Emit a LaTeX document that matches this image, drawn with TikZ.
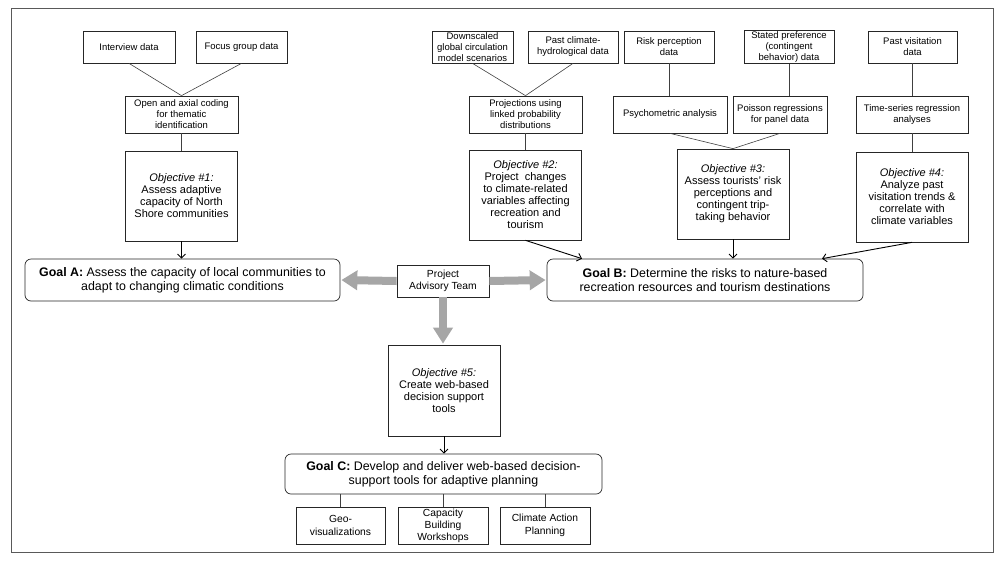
\documentclass[tikz,border=0pt]{standalone}
\usepackage{fontspec}
\setmainfont{Liberation Sans}
\usetikzlibrary{arrows.meta}
\begin{document}
\begin{tikzpicture}[x=1pt,y=-1pt,
 box/.style={draw=black!85, line width=0.7pt, rectangle, align=center, inner sep=1pt},
 small/.style={box, font=\fontsize{9.5}{11}\selectfont},
 mid/.style={box, font=\fontsize{10.3}{12.5}\selectfont},
 obj/.style={box, font=\fontsize{11}{12}\selectfont, minimum width=112pt, minimum height=90pt},
 goal/.style={box, rounded corners=6pt, font=\fontsize{12.4}{14}\selectfont, minimum height=42pt},
 link/.style={draw=black!75, line width=0.6pt},
 arr/.style={draw=black, line width=0.9pt, -{Straight Barb[length=4pt,width=8pt]}},
 bigarr/.style={draw=black!35, line width=8pt, -{Triangle[length=16pt,width=19pt]}, shorten >=1pt}
]
\useasboundingbox (0,0) rectangle (1000,563);
\draw[draw=black!65, line width=1pt] (11,8) rectangle (993,552);

% top data boxes
\node[small, minimum width=92pt, minimum height=32pt] (int) at (129,47) {Interview data};
\node[small, minimum width=91pt, minimum height=32pt] (focus) at (241.5,47) {Focus group data};
\node[small, minimum width=81pt, minimum height=32pt] (down) at (472.5,47) {Downscaled\\global circulation\\model scenarios};
\node[small, minimum width=90pt, minimum height=32pt] (pastclim) at (573,47) {Past climate-\\hydrological data};
\node[small, minimum width=90pt, minimum height=32pt] (risk) at (669,47) {Risk perception\\data};
\node[small, minimum width=90pt, minimum height=32pt] (stated) at (789,47) {Stated preference\\(contingent\\behavior) data};
\node[small, minimum width=89pt, minimum height=32pt] (pastvis) at (912.5,47) {Past visitation\\data};

% method boxes
\node[small, minimum width=113pt, minimum height=37pt] (coding) at (181.5,114.5) {Open and axial coding\\for thematic\\identification};
\node[small, minimum width=113pt, minimum height=37pt] (proj) at (525.5,114.5) {Projections using\\linked probability\\distributions};
\node[small, minimum width=114pt, minimum height=37pt] (psych) at (670,114.5) {Psychometric analysis};
\node[small, minimum width=94pt, minimum height=37pt] (poisson) at (780,114.5) {Poisson regressions\\for panel data};
\node[small, minimum width=112pt, minimum height=37pt] (ts) at (912,114.5) {Time-series regression\\analyses};

% objectives
\node[obj] (obj1) at (181.5,196) {\textit{Objective \#1:}\\Assess adaptive\\capacity of North\\Shore communities};
\node[obj] (obj2) at (525.5,195) {\textit{Objective \#2:}\\Project\ \ changes\\to climate-related\\variables affecting\\recreation and\\tourism};
\node[obj] (obj3) at (733,194) {\textit{Objective \#3:}\\Assess tourists' risk\\perceptions and\\contingent trip-\\taking behavior};
\node[obj] (obj4) at (912,197) {\textit{Objective \#4:}\\Analyze past\\visitation trends \&\\correlate with\\climate variables};

% goals and team
\node[goal, minimum width=315pt] (goalA) at (182.5,280) {\textbf{Goal A:} Assess the capacity of local communities to\\adapt to changing climatic conditions};
\node[goal, minimum width=316pt] (goalB) at (705,280) {\textbf{Goal B:} Determine the risks to nature-based\\recreation resources and tourism destinations};
\node[mid, minimum width=92pt, minimum height=32pt] (pat) at (443,281) {Project\\Advisory Team};

\node[obj, minimum height=91pt] (obj5) at (444,390.5) {\textit{Objective \#5:}\\Create web-based\\decision support\\tools};
\node[goal, minimum width=317pt, minimum height=40pt] (goalC) at (443.5,474) {\textbf{Goal C:} Develop and deliver web-based decision-\\support tools for adaptive planning};

\node[mid, minimum width=89pt, minimum height=37pt] (geo) at (340.5,525.5) {Geo-\\visualizations};
\node[mid, minimum width=90pt, minimum height=37pt, font=\fontsize{10.3}{12}\selectfont] (capb) at (443,525.5) {Capacity\\Building\\Workshops};
\node[mid, minimum width=90pt, minimum height=37pt] (cap) at (545,525.5) {Climate Action\\Planning};

% thin links
\draw[link] (int.south) -- (coding.north);
\draw[link] (focus.south) -- (coding.north);
\draw[link] (coding.south) -- (obj1.north);
\draw[link] (down.south) -- (proj.north);
\draw[link] (pastclim.south) -- (proj.north);
\draw[link] (proj.south) -- (obj2.north);
\draw[link] (risk.south) -- (risk.south |- psych.north);
\draw[link] (stated.south) -- (stated.south |- poisson.north);
\draw[link] (psych.south) -- (obj3.north);
\draw[link] (poisson.south) -- (obj3.north);
\draw[link] (pastvis.south) -- (pastvis.south |- ts.north);
\draw[link] (ts.south) -- (ts.south |- obj4.north);
\draw[link] (geo.north |- goalC.south) -- (geo.north);
\draw[link] (capb.north |- goalC.south) -- (capb.north);
\draw[link] (cap.north |- goalC.south) -- (cap.north);

% black arrows
\draw[arr] (obj1.south) -- (obj1.south |- goalA.north);
\draw[arr] (obj2.south) -- ([xshift=-123pt]goalB.north);
\draw[arr] (obj3.south) -- (obj3.south |- goalB.north);
\draw[arr] (obj4.south) -- ([xshift=117pt]goalB.north);
\draw[arr] (obj5.south) -- (obj5.south |- goalC.north);

% grey arrows
\draw[bigarr] (pat.west) -- (goalA.east);
\draw[bigarr] (pat.east) -- (goalB.west);
\draw[bigarr] (pat.south) -- (pat.south |- obj5.north);
\end{tikzpicture}
\end{document}
